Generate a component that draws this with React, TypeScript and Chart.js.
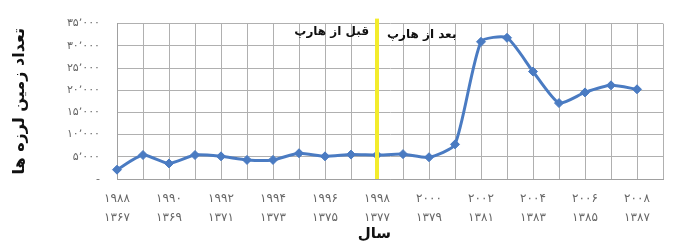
import React, { useEffect, useRef } from 'react';
import { Chart, registerables } from 'chart.js';

Chart.register(...registerables);

const gregorianYears = ['۱۹۸۸', '۱۹۸۹', '۱۹۹۰', '۱۹۹۱', '۱۹۹۲', '۱۹۹۳', '۱۹۹۴', '۱۹۹۵', '۱۹۹۶', '۱۹۹۷', '۱۹۹۸', '۱۹۹۹', '۲۰۰۰', '۲۰۰۱', '۲۰۰۲', '۲۰۰۳', '۲۰۰۴', '۲۰۰۵', '۲۰۰۶', '۲۰۰۷', '۲۰۰۸', '۲۰۰۹'];
const persianYears = ['۱۳۶۷', '۱۳۶۸', '۱۳۶۹', '۱۳۷۰', '۱۳۷۱', '۱۳۷۲', '۱۳۷۳', '۱۳۷۴', '۱۳۷۵', '۱۳۷۶', '۱۳۷۷', '۱۳۷۸', '۱۳۷۹', '۱۳۸۰', '۱۳۸۱', '۱۳۸۲', '۱۳۸۳', '۱۳۸۴', '۱۳۸۵', '۱۳۸۶', '۱۳۸۷', '۱۳۸۸'];
const earthquakeCounts = [2100, 5400, 3500, 5400, 5100, 4300, 4300, 5800, 5100, 5500, 5400, 5600, 4900, 7800, 30900, 31800, 24200, 17100, 19500, 21100, 20200, null];
const yTickLabels = ['-', '۵٬۰۰۰', '۱۰٬۰۰۰', '۱۵٬۰۰۰', '۲۰٬۰۰۰', '۲۵٬۰۰۰', '۳۰٬۰۰۰', '۳۵٬۰۰۰'];
const haarpIndex = 10;
const beforeText = 'قبل از هارپ';
const afterText = 'بعد از هارپ';
const yTitle = 'تعداد زمین لرزه ها';
const xTitle = 'سال';

const FONT = '"DejaVu Sans", sans-serif';
const LINE_COLOR = '#4a7bc2';

const haarpPlugin = {
  id: 'haarp',
  afterDatasetsDraw(chart: any) {
    const { ctx, chartArea } = chart;
    const x = chart.scales.x.getPixelForValue(haarpIndex);
    ctx.save();
    ctx.strokeStyle = '#f3ec2c';
    ctx.lineWidth = 4;
    ctx.beginPath();
    ctx.moveTo(x, chartArea.top - 5);
    ctx.lineTo(x, chartArea.bottom);
    ctx.stroke();
    ctx.fillStyle = '#111';
    ctx.font = 'bold 12px ' + FONT;
    ctx.textBaseline = 'middle';
    ctx.textAlign = 'right';
    ctx.fillText(beforeText, x - 8, chartArea.top + 8);
    ctx.textAlign = 'left';
    ctx.fillText(afterText, x + 10, chartArea.top + 11);
    ctx.restore();
  },
};

export default function App() {
  const canvasRef = useRef<HTMLCanvasElement | null>(null);

  useEffect(() => {
    document.body.style.margin = '0';
    const canvas = canvasRef.current;
    if (!canvas) return;
    const chart = new Chart(canvas, {
      type: 'line',
      data: {
        labels: gregorianYears,
        datasets: [
          {
            data: earthquakeCounts,
            borderColor: LINE_COLOR,
            backgroundColor: LINE_COLOR,
            borderWidth: 3,
            tension: 0.2,
            pointStyle: 'rectRot',
            pointRadius: 4.5,
            pointBorderWidth: 1,
            pointBackgroundColor: LINE_COLOR,
            pointBorderColor: LINE_COLOR,
            clip: false,
            spanGaps: false,
          },
        ],
      },
      options: {
        animation: false,
        responsive: false,
        devicePixelRatio: 1,
        layout: { padding: { top: 17, right: 10, left: 0, bottom: 0 } },
        plugins: {
          legend: { display: false },
          tooltip: { enabled: false },
        },
        scales: {
          x: {
            type: 'category',
            offset: false,
            grid: { color: '#b0b0b0', lineWidth: 1, drawTicks: false },
            border: { display: true, color: '#a0a0a0' },
            ticks: {
              autoSkip: false,
              maxRotation: 0,
              minRotation: 0,
              padding: 10,
              color: '#666',
              font: { family: FONT, size: 12, lineHeight: 1.58 },
              callback: (_v: any, i: number) => (i % 2 === 0 ? [gregorianYears[i], persianYears[i]] : ''),
            },
            title: {
              display: true,
              text: xTitle + '\u00a0\u00a0\u00a0\u00a0\u00a0\u00a0',
              color: '#111',
              font: { family: FONT, size: 15, weight: 'bold', lineHeight: 1.2 },
              padding: { top: 0, bottom: 1 },
            },
            afterFit: (s: any) => {
              s.height = 65;
            },
          },
          y: {
            min: 0,
            max: 35000,
            grid: { color: '#b0b0b0', lineWidth: 1, drawTicks: false },
            border: { display: true, color: '#a0a0a0' },
            ticks: {
              stepSize: 5000,
              padding: 17,
              color: '#666',
              font: { family: FONT, size: 11 },
              callback: (v: any) => yTickLabels[Math.round(Number(v) / 5000)],
            },
            title: {
              display: true,
              text: yTitle,
              color: '#111',
              font: { family: FONT, size: 16, weight: 'bold', lineHeight: 1.2 },
              padding: { top: 10, bottom: 0 },
            },
            afterFit: (s: any) => {
              s.width = 117;
            },
          },
        },
      },
      plugins: [haarpPlugin],
    } as any);
    return () => chart.destroy();
  }, []);

  return (
    <div style={{ position: 'absolute', left: 0, top: 0, width: 673, height: 244, background: '#fff' }}>
      <canvas ref={canvasRef} width={673} height={244} style={{ width: 673, height: 244, display: 'block' }} />
    </div>
  );
}
